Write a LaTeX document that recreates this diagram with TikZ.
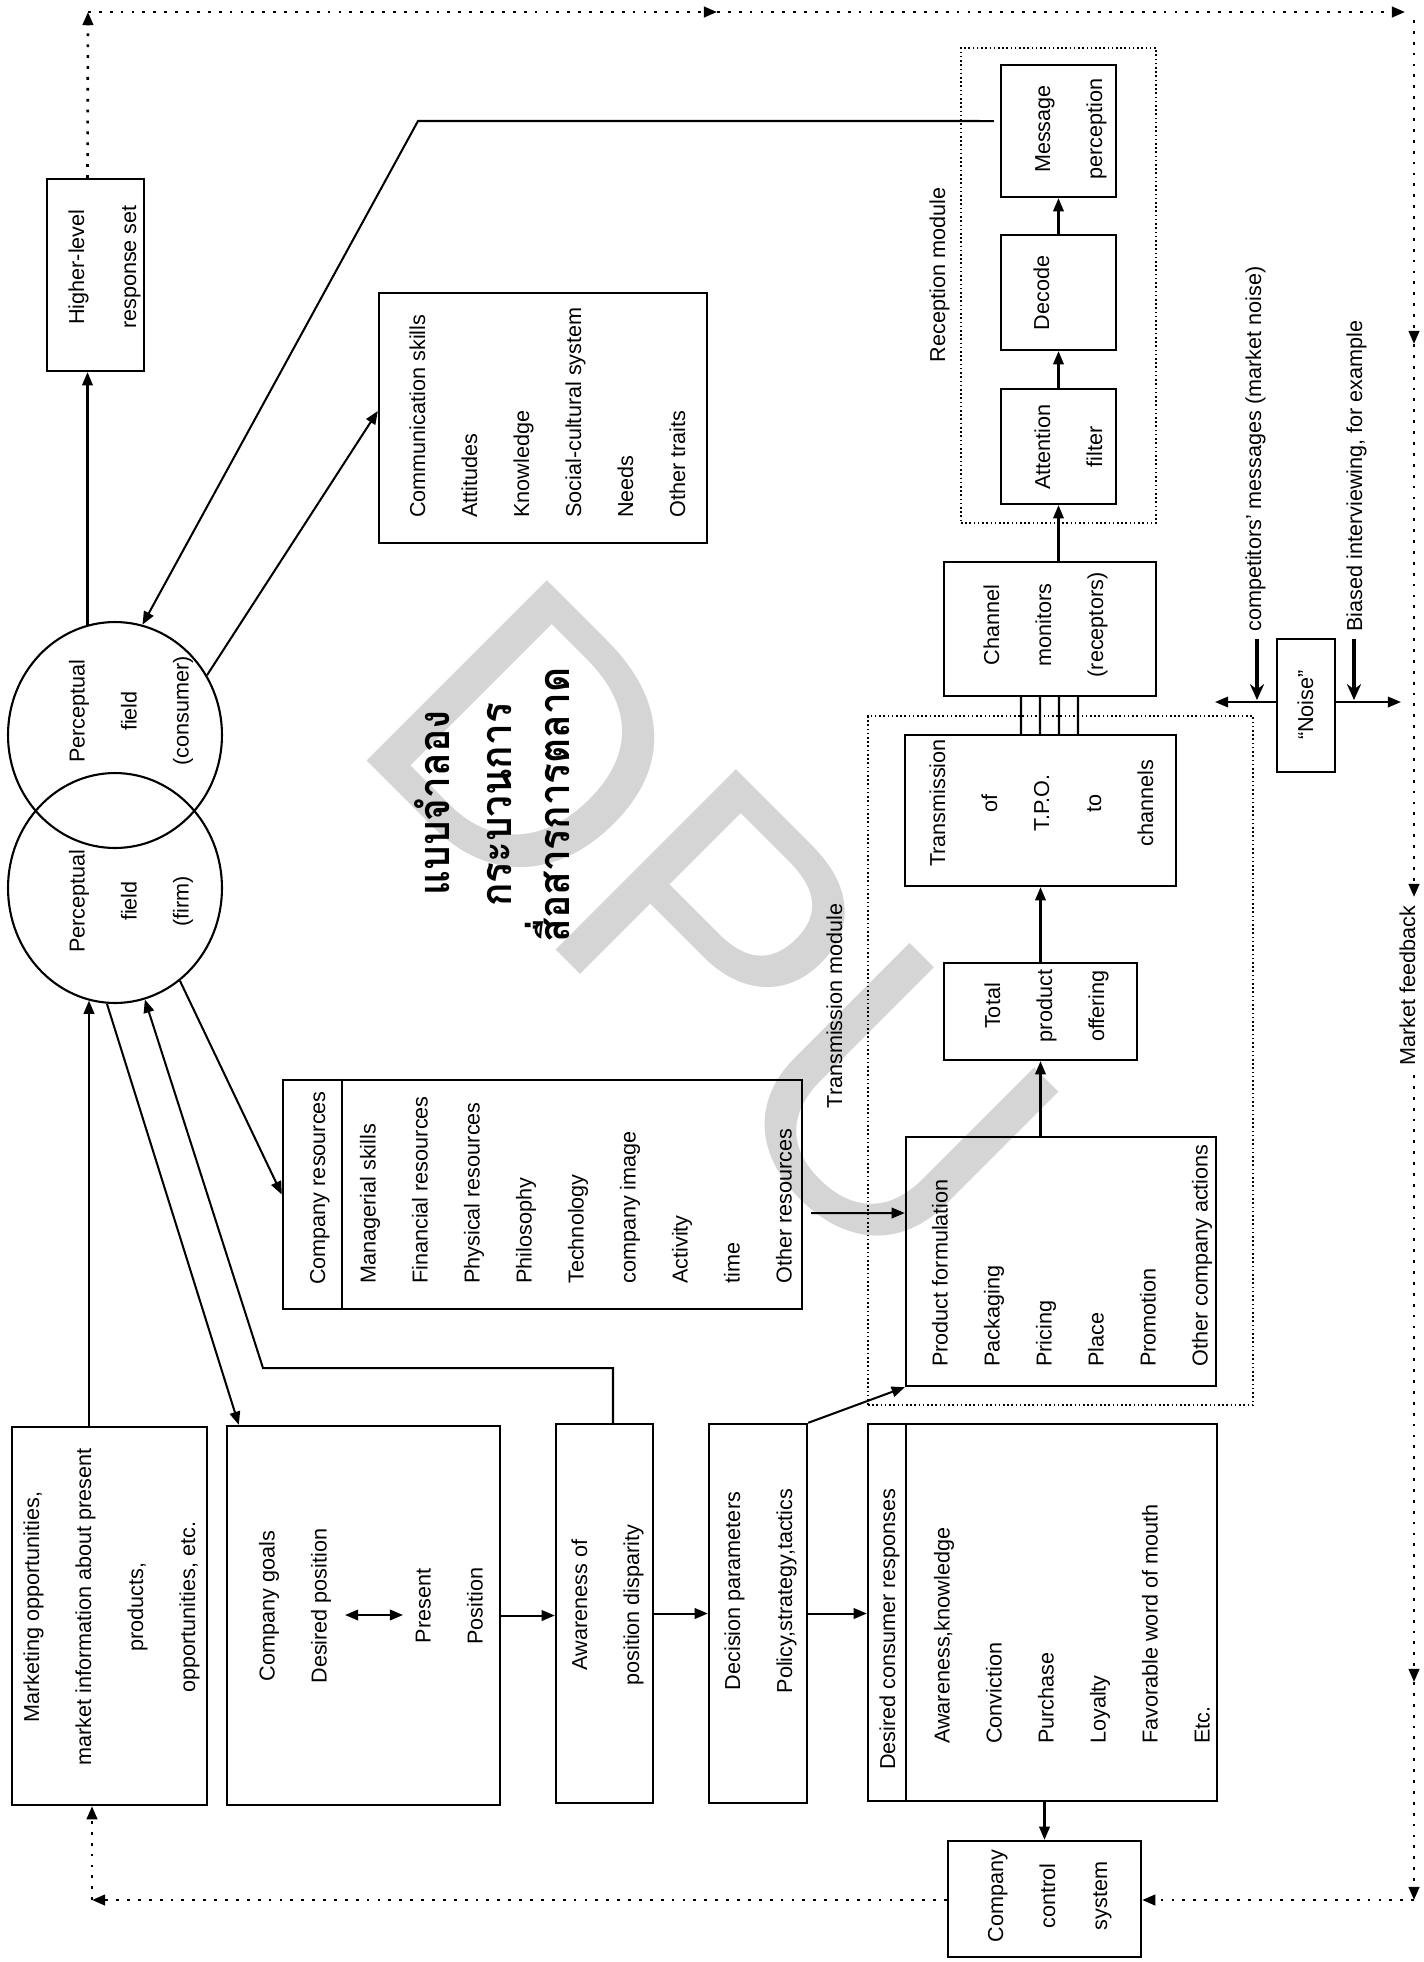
\documentclass[tikz,border=0pt]{standalone}
\usepackage{fontspec}
\setmainfont{Liberation Sans}
\newfontfamily\thaifont[Script=Thai,FakeStretch=0.9]{Loma}
\newfontfamily\wmfont{Liberation Sans}
\usetikzlibrary{arrows.meta,fit,shapes.geometric}
\newcommand\myl{\rule[-10.8pt]{0pt}{29.6pt}}
\begin{document}
\begin{tikzpicture}[x=0.02cm,y=-0.02cm,
  box/.style={draw, line width=1.35pt, inner sep=0pt},
  modbox/.style={draw, line width=0.9pt, dash pattern=on 0.9pt off 1.5pt, inner sep=0pt},
  field/.style={draw, ellipse, line width=1.2pt, inner sep=0pt},
  conn/.style={line width=1.15pt},
  arr/.style={conn, -{Triangle[length=7.5pt,width=6pt]}},
  darr/.style={conn, {Triangle[length=7.5pt,width=6pt]}-{Triangle[length=7.5pt,width=6pt]}},
  thickarr/.style={line width=1.8pt, -{Stealth[length=9pt,width=8pt]}},
  fb/.style={line width=1.5pt, dash pattern=on 1.6pt off 4.6pt},
  fbarr/.style={fb, -{Triangle[length=7.5pt,width=6pt]}},
  txt/.style={rotate=90, inner sep=0pt, font=\fontsize{12.3}{29.6}\selectfont},
  ctxt/.style={txt, align=center},
  ltxt/.style={txt, align=left, anchor=west},
  thai/.style={rotate=90, anchor=base, inner sep=0pt, font=\thaifont\bfseries\fontsize{24.5}{30}\selectfont}
]
\useasboundingbox (0,0) rectangle (1424,1962);

% watermark
\node[rotate=-45, inner sep=0pt, text=gray!33, font=\wmfont\fontsize{211}{211}\selectfont] (wm) at (711,927) {DPU};

% boxes
\node[box, fit={(12,1427)(207,1805)}] (mkt) {};
\node[box, fit={(227,1426)(500,1805)}] (goals) {};
\node[box, fit={(556,1424)(653,1803)}] (aware) {};
\node[box, fit={(709,1424)(807,1803)}] (decision) {};
\node[box, fit={(868,1424)(1217,1801)}] (desired) {};
\node[box, fit={(948,1841)(1141,1957)}] (control) {};
\node[box, fit={(283,1080)(802,1309)}] (compres) {};
\node[box, fit={(906,1137)(1216,1386)}] (prod) {};
\node[box, fit={(944,963)(1137,1060)}] (total) {};
\node[box, fit={(905,735)(1176,886)}] (trans) {};
\node[box, fit={(944,562)(1156,696)}] (chan) {};
\node[box, fit={(1001,389)(1116,504)}] (attn) {};
\node[box, fit={(1001,235)(1116,350)}] (decode) {};
\node[box, fit={(1001,65)(1116,197)}] (msg) {};
\node[box, fit={(379,293)(707,543)}] (comm) {};
\node[box, fit={(47,179)(144,371)}] (higher) {};
\node[box, fit={(1277,639)(1335,772)}] (noise) {};
\node[modbox, fit={(961,48)(1156,523)}] (recmod) {};
\node[modbox, fit={(868,716)(1253,1405)}] (trmod) {};

\draw[line width=1.35pt] ([xshift=0.78cm]desired.north west) -- ([xshift=0.78cm]desired.south west);
\draw[line width=1.35pt] ([xshift=1.2cm]compres.north west) -- ([xshift=1.2cm]compres.south west);

% perceptual fields
\node[field, minimum width=4.28cm, minimum height=4.52cm] (cons) at (115,735) {};
\node[field, minimum width=4.28cm, minimum height=4.6cm] (firm) at (115,888) {};

% texts
\node[ctxt] (tmkt) at (110,1607) {\myl Marketing opportunities,\\\myl market information about present\\\myl products,\\\myl opportunities, etc.};
\node[ctxt] (tgoals) at (371.5,1606) {\myl Company goals\\\myl Desired position\\\myl\\\myl Present\\\myl Position};
\node[ctxt] (taware) at (606,1605) {\myl Awareness of\\\myl position disparity};
\node[ctxt] (tdec) at (759,1591) {\myl Decision parameters\\\myl Policy,strategy,tactics};
\node[ltxt] (tdesh) at (888,1770) {\myl Desired consumer responses};
\node[ltxt] (tdes) at (1072.5,1744) {\myl Awareness,knowledge\\\myl Conviction\\\myl Purchase\\\myl Loyalty\\\myl Favorable word of mouth\\\myl Etc.};
\node[ctxt] (tctrl) at (1048,1896) {\myl Company\\\myl control\\\myl system};
\node[ltxt] (tcrh) at (318,1285) {\myl Company resources};
\node[ltxt] (tcr) at (576.5,1284) {\myl Managerial skills\\\myl Financial resources\\\myl Physical resources\\\myl Philosophy\\\myl Technology\\\myl company image\\\myl Activity\\\myl time\\\myl Other resources};
\node[ltxt] (tprod) at (1070.5,1367) {\myl Product formulation\\\myl Packaging\\\myl Pricing\\\myl Place\\\myl Promotion\\\myl Other company actions};
\node[ctxt] (ttot) at (1045,1006) {\myl Total\\\myl product\\\myl offering};
\node[ctxt] (ttrans) at (1042,803) {\myl Transmission\\\myl of\\\myl T.P.O.\\\myl to\\\myl channels};
\node[ctxt] (tchan) at (1044,625) {\myl Channel\\\myl monitors\\\myl (receptors)};
\node[ctxt] (tattn) at (1069,447) {\myl Attention\\\myl filter};
\node[ctxt] (tdecode) at (1042,293) {\myl Decode};
\node[ctxt] (tmsg) at (1069,129) {\myl Message\\\myl perception};
\node[ctxt] (trec) at (938,275) {\myl Reception module};
\node[ctxt] (ttrm) at (835,1006) {\myl Transmission module};
\node[ltxt] (tcomm) at (548,518) {\myl Communication skills\\\myl Attitudes\\\myl Knowledge\\\myl Social-cultural system\\\myl Needs\\\myl Other traits};
\node[ctxt] (thigher) at (103,267) {\myl Higher-level\\\myl response set};
\node[ctxt] (tnoise) at (1306,705) {\myl “Noise”};
\node[ctxt] (tcons) at (129.5,711) {\myl Perceptual\\\myl field\\\myl (consumer)};
\node[ctxt] (tfirm) at (129.5,901) {\myl Perceptual\\\myl field\\\myl (firm)};
\node[ltxt] (tcomp) at (1254,632) {\myl competitors’ messages (market noise)};
\node[ltxt] (tbias) at (1355,632) {\myl Biased interviewing, for example};
\node[ctxt, inner xsep=5pt] (tmf) at (1408,986) {\myl Market feedback};

% Thai title
\node[thai] (th1) at (449,803) {แบบจำลอง};
\node[thai] (th2) at (511,805) {กระบวนการ};
\node[thai] (th3) at (569,805) {สื่อสารการตลาด};

% coordinates
\coordinate (fbc) at (263,1368);
\coordinate (mc) at (418,121);
\coordinate (g1) at (345,1615);
\coordinate (g2) at (403,1615);
\coordinate (nl) at (1215,702);
\coordinate (nr) at (1401,702);
\coordinate (ca1) at (1257,639);
\coordinate (ca2) at (1257,700);
\coordinate (ba1) at (1354,639);
\coordinate (ba2) at (1354,700);
\coordinate (tl) at (88,12);
\coordinate (tm) at (717,12);
\coordinate (tr) at (1405,12);
\coordinate (rt) at (1414,20);
\coordinate (rv1) at (1414,344);
\coordinate (rv2) at (1414,1682);
\coordinate (br) at (1414,1900);
\coordinate (bl) at (92,1900);

% connectors
\draw[arr] (mkt.north -| firm.257) -- (firm.257);
\draw[arr] (firm.266) -- ([xshift=0.26cm]goals.north west);
\draw[arr] ([xshift=0.17cm]aware.north) |- (fbc) -- (firm.285);
\draw[arr] (firm.305) -- (compres.west);
\draw[arr] (cons.104) -- (cons.104 |- higher.south);
\draw[arr] ([xshift=-0.12cm,yshift=0.2cm]msg.west) -- (mc) -- (cons.76);
\draw[arr] (cons.33) -- ([yshift=0.14cm]comm.west);
\draw[arr] ([xshift=0.16cm,yshift=-0.37cm]compres.east) -- ([yshift=0.97cm]prod.west);
\draw[arr] (decision.north east) -- (prod.south west);
\draw[arr] (goals.east) -- (goals.east -| aware.west);
\draw[arr] (aware.east) -- (aware.east -| decision.west);
\draw[arr] (decision.east) -- (decision.east -| desired.west);
\draw[arr] (control.north |- desired.south) -- (control.north);
\draw[arr] (total.south |- prod.north) -- (total.south);
\draw[arr] (total.north) -- (total.north |- trans.south);
\foreach \a/\b in {-0.58/-0.39,-0.2/-0.01,0.18/0.37,0.56/0.75}
  \draw[line width=1.3pt] ([xshift=\a cm]chan.south) -- ([xshift=\b cm]trans.north);
\draw[arr] (attn.south |- chan.north) -- (attn.south);
\draw[arr] (attn.north) -- (decode.south);
\draw[arr] (decode.north) -- (msg.south);
\draw[darr] (g1) -- (g2);
\draw[arr] (noise.west |- nl) -- (nl);
\draw[arr] (noise.east |- nr) -- (nr);
\draw[thickarr] (ca1) -- (ca2);
\draw[thickarr] (ba1) -- (ba2);

% feedback loop
\draw[fbarr] (cons.104 |- higher.north) -- (tl);
\draw[fbarr] (tl) -- (tm);
\draw[fbarr] (tm) -- (tr);
\draw[fbarr] (rt) -- (rv1);
\draw[fbarr] (rv1) -- (rv1 |- tmf.east);
\draw[fbarr] (rv1 |- tmf.west) -- (rv2);
\draw[fbarr] (rv2) -- (br);
\draw[fbarr] (br) -- (br -| control.east);
\draw[fbarr] (control.west |- bl) -- (bl);
\draw[fbarr] (bl) -- (bl |- mkt.south);
\end{tikzpicture}
\end{document}
